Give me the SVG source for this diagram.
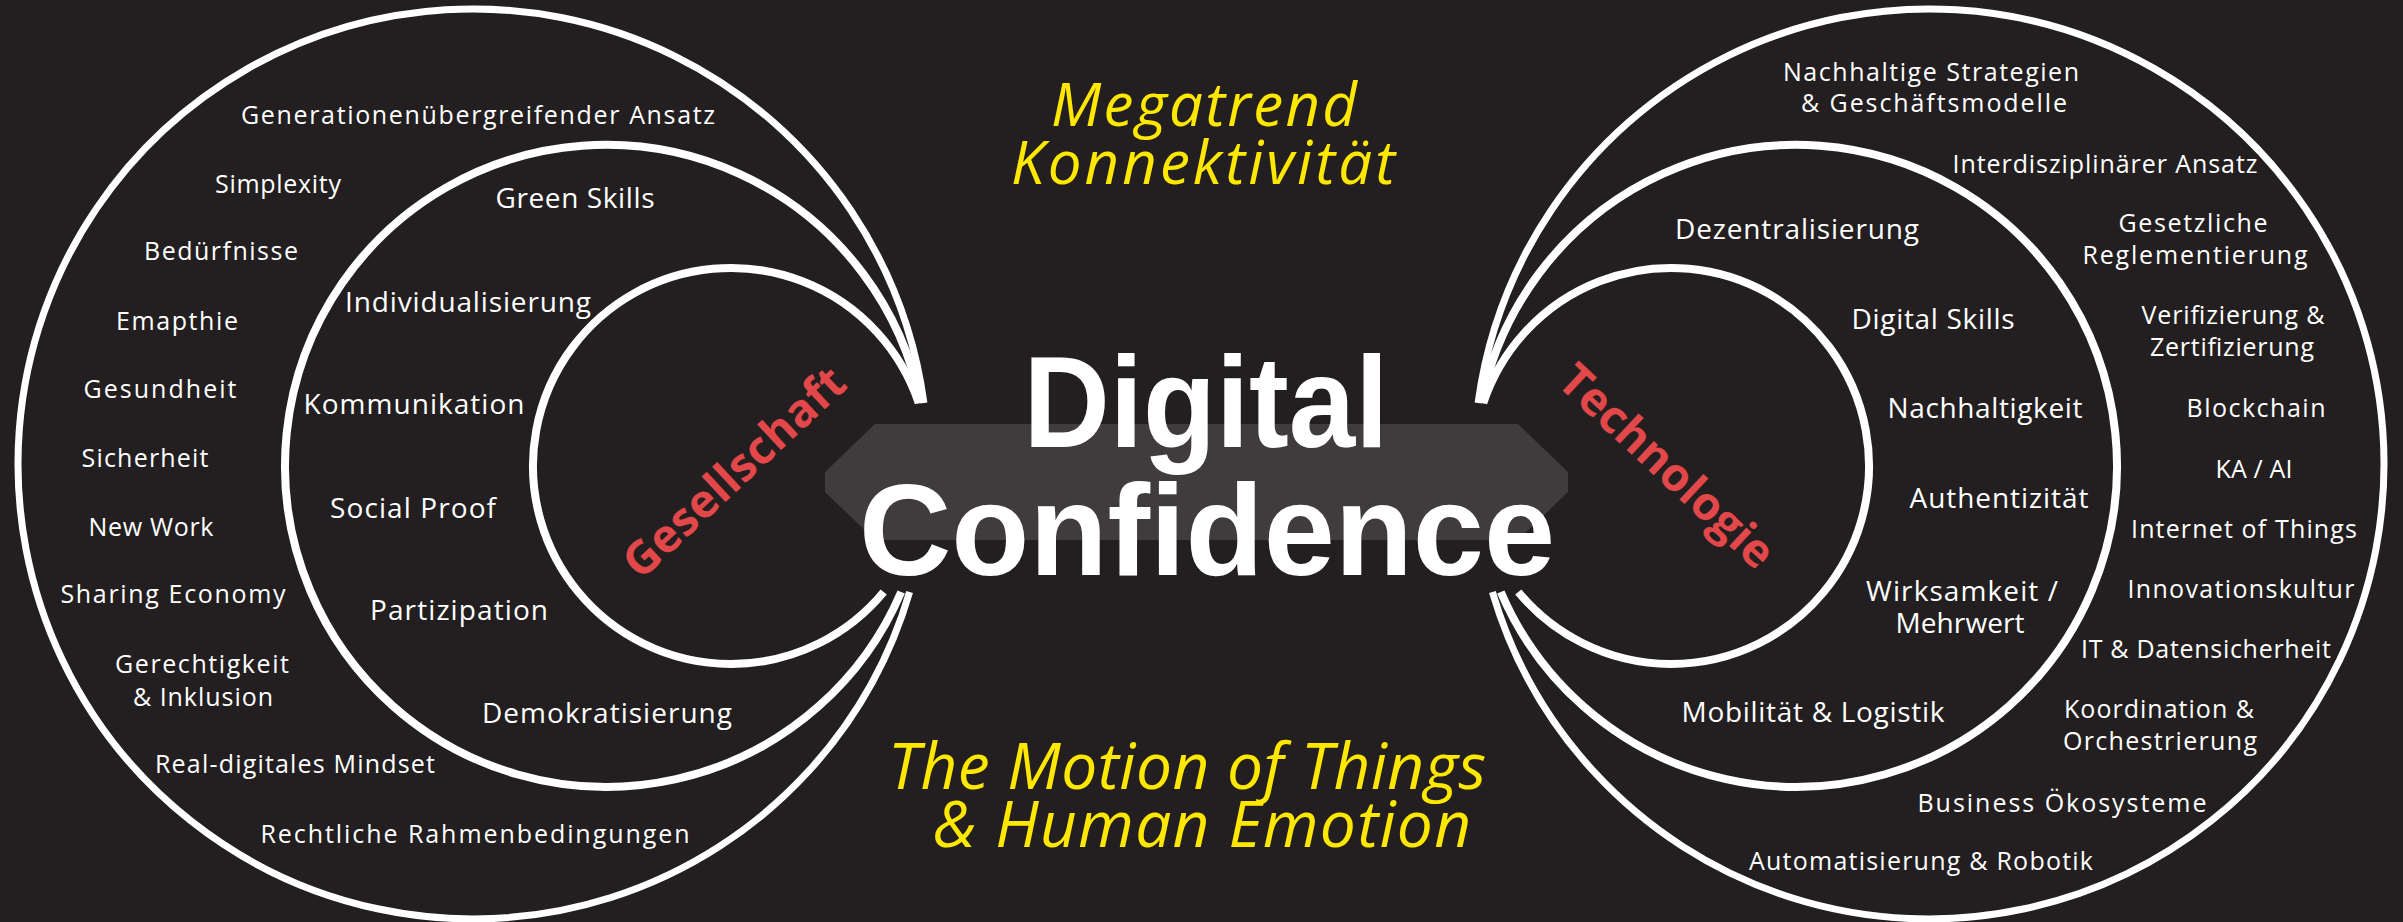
<svg xmlns="http://www.w3.org/2000/svg" width="2403" height="922" viewBox="0 0 2403 922">
<style>
.ring{fill:none;stroke:#ffffff;stroke-linecap:butt}
.o{stroke-width:7}
.m{stroke-width:8}
.i{stroke-width:8}
.lbl{font-family:"Open Sans","Noto Sans",sans-serif;fill:#ffffff;text-anchor:middle}
.s1{font-size:25px}
.s2{font-size:28px}
.red{font-family:"Open Sans","Liberation Sans",sans-serif;font-weight:700;font-size:46px;fill:#e2474a;text-anchor:middle}
.title{font-family:"Liberation Sans",Arial,sans-serif;font-weight:700;font-size:130px;fill:#ffffff;text-anchor:middle}
.yel{font-family:"Open Sans","Noto Sans",sans-serif;font-style:italic;fill:#ffe800}
</style>
<rect x="0" y="0" width="2403" height="922" fill="#231f20"/>

<g id="rings">
<path class="ring o" d="M923.9,403 A455,455 0 1 0 909.6,592"/>
<path class="ring m" d="M920.8,403 A321,321 0 1 0 901.2,592"/>
<path class="ring i" d="M918.7,403 A198,198 0 1 0 883.7,592"/>
<path class="ring o" d="M1478.1,403 A455,455 0 1 1 1492.4,592"/>
<path class="ring m" d="M1481.2,403 A321,321 0 1 1 1500.8,592"/>
<path class="ring i" d="M1483.3,403 A198,198 0 1 1 1518.3,592"/>
</g>

<g id="center">
<polygon points="875,424 1518,424 1568,472 1568,492 1518,540 875,540 825,492 825,472" fill="#403c3d"/>
<text class="title" x="1206" y="447" textLength="365" lengthAdjust="spacingAndGlyphs">Digital</text>
<text class="title" x="1207" y="575" textLength="696" lengthAdjust="spacingAndGlyphs">Confidence</text>
</g>

<g id="megatrend">
<text class="yel" x="1204" y="126" font-size="60" text-anchor="middle" textLength="306">Megatrend</text>
<text class="yel" x="1203" y="184" font-size="60" text-anchor="middle" textLength="384">Konnektivität</text>
</g>

<g id="motion">
<text class="yel" x="888" y="789" font-size="64" textLength="598">The Motion of Things</text>
<text class="yel" x="933" y="847" font-size="64" textLength="538">&amp; Human Emotion</text>
</g>

<g id="gesellschaft">
<text class="red" transform="translate(734,472) rotate(-43)" x="0" y="16" textLength="285">Gesellschaft</text>
</g>

<g id="technologie">
<text class="red" transform="translate(1667,466) rotate(43)" x="0" y="16" textLength="275">Technologie</text>
</g>

<g id="gesellschaft-outer">
<text class="lbl s1" x="478" y="124" textLength="474">Generationenübergreifender Ansatz</text>
<text class="lbl s1" x="278" y="193" textLength="126">Simplexity</text>
<text class="lbl s1" x="221" y="260" textLength="154">Bedürfnisse</text>
<text class="lbl s1" x="177" y="330" textLength="122">Emapthie</text>
<text class="lbl s1" x="160" y="398" textLength="153">Gesundheit</text>
<text class="lbl s1" x="145" y="467" textLength="127">Sicherheit</text>
<text class="lbl s1" x="151" y="536" textLength="125">New Work</text>
<text class="lbl s1" x="173" y="603" textLength="225">Sharing Economy</text>
<text class="lbl s1" x="202" y="673" textLength="174">Gerechtigkeit</text>
<text class="lbl s1" x="203" y="706" textLength="140">&amp; Inklusion</text>
<text class="lbl s1" x="295" y="773" textLength="280">Real-digitales Mindset</text>
<text class="lbl s1" x="475" y="843" textLength="429">Rechtliche Rahmenbedingungen</text>
</g>

<g id="gesellschaft-middle">
<text class="lbl s2" x="575" y="208" textLength="159">Green Skills</text>
<text class="lbl s2" x="468" y="312" textLength="246">Individualisierung</text>
<text class="lbl s2" x="414" y="414" textLength="221">Kommunikation</text>
<text class="lbl s2" x="413" y="518" textLength="166">Social Proof</text>
<text class="lbl s2" x="459" y="620" textLength="178">Partizipation</text>
<text class="lbl s2" x="607" y="723" textLength="250">Demokratisierung</text>
</g>

<g id="technologie-outer">
<text class="lbl s1" x="1931" y="81" textLength="296">Nachhaltige Strategien</text>
<text class="lbl s1" x="1934" y="112" textLength="266">&amp; Geschäftsmodelle</text>
<text class="lbl s1" x="2105" y="173" textLength="305">Interdisziplinärer Ansatz</text>
<text class="lbl s1" x="2193" y="232" textLength="149">Gesetzliche</text>
<text class="lbl s1" x="2195" y="264" textLength="225">Reglementierung</text>
<text class="lbl s1" x="2233" y="324" textLength="183">Verifizierung &amp;</text>
<text class="lbl s1" x="2232" y="356" textLength="164">Zertifizierung</text>
<text class="lbl s1" x="2256" y="417" textLength="139">Blockchain</text>
<text class="lbl s1" x="2254" y="478" textLength="77">KA / AI</text>
<text class="lbl s1" x="2244" y="538" textLength="226">Internet of Things</text>
<text class="lbl s1" x="2241" y="598" textLength="227">Innovationskultur</text>
<text class="lbl s1" x="2206" y="658" textLength="250">IT &amp; Datensicherheit</text>
<text class="lbl s1" x="2159" y="718" textLength="190">Koordination &amp;</text>
<text class="lbl s1" x="2160" y="750" textLength="194">Orchestrierung</text>
<text class="lbl s1" x="2062" y="812" textLength="289">Business Ökosysteme</text>
<text class="lbl s1" x="1921" y="870" textLength="344">Automatisierung &amp; Robotik</text>
</g>

<g id="technologie-middle">
<text class="lbl s2" x="1797" y="239" textLength="244">Dezentralisierung</text>
<text class="lbl s2" x="1933" y="329" textLength="163">Digital Skills</text>
<text class="lbl s2" x="1985" y="418" textLength="195">Nachhaltigkeit</text>
<text class="lbl s2" x="1999" y="508" textLength="179">Authentizität</text>
<text class="lbl s2" x="1962" y="601" textLength="192">Wirksamkeit /</text>
<text class="lbl s2" x="1960" y="633" textLength="129">Mehrwert</text>
<text class="lbl s2" x="1813" y="722" textLength="263">Mobilität &amp; Logistik</text>
</g>
</svg>
